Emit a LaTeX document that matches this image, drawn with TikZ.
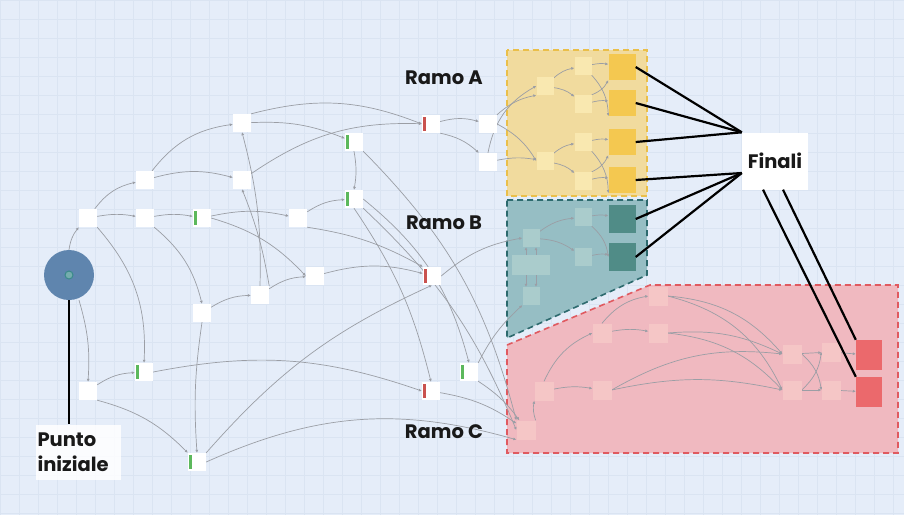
\documentclass[tikz,border=0pt]{standalone}
\usepackage{fontspec}
\newfontfamily\labfont{Poppins}
\usetikzlibrary{arrows.meta}
\definecolor{bgc}{RGB}{229,237,249}
\definecolor{gridc}{RGB}{218,228,242}
\definecolor{edgec}{RGB}{155,158,165}
\definecolor{barg}{RGB}{92,184,92}
\definecolor{barr}{RGB}{201,82,79}
\definecolor{circc}{RGB}{95,133,174}
\definecolor{dotc}{RGB}{58,138,138}
\definecolor{regA}{RGB}{241,219,158}
\definecolor{lineA}{RGB}{234,191,74}
\definecolor{nodA}{RGB}{249,232,176}
\definecolor{finA}{RGB}{244,200,80}
\definecolor{regB}{RGB}{150,190,196}
\definecolor{lineB}{RGB}{45,106,110}
\definecolor{nodB}{RGB}{170,204,204}
\definecolor{finB}{RGB}{80,140,135}
\definecolor{regC}{RGB}{240,185,192}
\definecolor{lineC}{RGB}{224,90,96}
\definecolor{nodC}{RGB}{245,198,198}
\definecolor{finC}{RGB}{235,105,108}
\pgfdeclarelayer{back}
\pgfdeclarelayer{edgelayer}
\pgfsetlayers{back,edgelayer,main}
\tikzset{
  box/.style={rectangle, fill=white, minimum width=18pt, minimum height=18pt, inner sep=0pt},
  gbox/.style={box, path picture={\fill[barg] ([xshift=1pt,yshift=7pt]path picture bounding box.west) rectangle ++(3pt,-14pt);}},
  rbox/.style={box, path picture={\fill[barr] ([xshift=1pt,yshift=7pt]path picture bounding box.west) rectangle ++(3pt,-14pt);}},
  boxA/.style={box, fill=nodA, minimum width=17pt},
  boxB/.style={box, fill=nodB, minimum width=17pt},
  boxC/.style={box, fill=nodC, minimum width=19pt, minimum height=19pt},
  finalA/.style={box, fill=finA, minimum width=27pt, minimum height=26pt},
  finalB/.style={box, fill=finB, minimum width=27pt, minimum height=28pt},
  finalC/.style={box, fill=finC, minimum width=26pt, minimum height=30pt},
  edge/.style={draw=edgec, line width=0.7pt, -{Latex[length=3pt,width=3pt]}},
  bigline/.style={draw=black, line width=2.2pt},
  lab/.style={font=\labfont\bfseries\fontsize{19.5}{25}\selectfont, text=black!90},
  regborder/.style={line width=1.6pt, dash pattern=on 6pt off 4pt},
}
\begin{document}
\begin{tikzpicture}[x=1pt,y=-1pt]
\useasboundingbox (0,0) rectangle (904,515);
\begin{pgfonlayer}{back}
  \fill[bgc] (0,0) rectangle (904,515);
  \draw[gridc, line width=0.4pt, step=19pt] (0,0) grid (904,515);
  % branch areas
  \fill[regA] (507,50) rectangle (647,196);
  \draw[lineA, regborder] (507,50) rectangle (647,196);
  \fill[regB] (507,200) -- (647,200) -- (647,275) -- (507,338) -- cycle;
  \draw[lineB, regborder] (507,200) -- (647,200) -- (647,275) -- (507,338) -- cycle;
  \fill[regC] (507,345) -- (650,285) -- (898,285) -- (898,453) -- (507,453) -- cycle;
  \draw[lineC, regborder] (507,345) -- (650,285) -- (898,285) -- (898,453) -- (507,453) -- cycle;
\end{pgfonlayer}

% start point
\node[circle, fill=circc, minimum size=50pt, inner sep=0pt] (st) at (69,275) {};
\node[circle, draw=dotc, fill=dotc!70, line width=1pt, minimum size=8pt, inner sep=0pt] (std) at (69,275) {};
\node[lab, fill=white, fill opacity=0.85, text opacity=1, minimum width=85pt, minimum height=55pt, align=left, text width=81pt, inner xsep=2pt] (pl) at (78,452) {Punto\\iniziale};
\draw[line width=2.2pt] (st.south) -- (pl.north -| st.south);

% main flow nodes
\node[box] (n1) at (88,218) {};
\node[box] (n2) at (145,180) {};
\node[box] (n3) at (145,218) {};
\node[gbox] (n4) at (202,218) {};
\node[box] (n5) at (242,123) {};
\node[box] (n6) at (242,180) {};
\node[box] (n7) at (298,218) {};
\node[box] (n8) at (260,295) {};
\node[box] (n9) at (202,313) {};
\node[box] (n10) at (315,276) {};
\node[box] (n11) at (88,391) {};
\node[gbox] (g4) at (144,372) {};
\node[gbox] (g5) at (197,462) {};
\node[gbox] (g2) at (354,142) {};
\node[gbox] (g3) at (354,199) {};
\node[gbox] (g6) at (469,372) {};
\node[rbox] (r1) at (431,124) {};
\node[rbox] (r2) at (432,276) {};
\node[rbox] (r3) at (431,391) {};
\node[box] (A1) at (488,124) {};
\node[box] (A2) at (488,162) {};

% branch A
\node[boxA] (a1) at (545,86) {};
\node[boxA] (a2) at (545,161) {};
\node[boxA] (a3) at (583,66) {};
\node[boxA] (a4) at (583,104) {};
\node[boxA] (a5) at (583,142) {};
\node[boxA] (a6) at (583,181) {};
\node[finalA] (f1) at (622,67) {};
\node[finalA] (f2) at (622,103) {};
\node[finalA] (f3) at (622,142) {};
\node[finalA] (f4) at (622,180) {};

% branch B
\node[boxB] (b1) at (531,238) {};
\node[boxB, minimum width=38pt, minimum height=20pt] (b2) at (531,265) {};
\node[boxB] (b3) at (531,296) {};
\node[boxB] (b4) at (583,217) {};
\node[boxB] (b5) at (583,257) {};
\node[finalB] (fb1) at (622,219) {};
\node[finalB] (fb2) at (622,257) {};

% branch C
\node[boxC] (c0) at (526,430) {};
\node[boxC] (c1) at (544,391) {};
\node[boxC] (c2) at (602,390) {};
\node[boxC] (c3) at (602,333) {};
\node[boxC] (c4) at (658,296) {};
\node[boxC] (c5) at (658,333) {};
\node[boxC] (c6) at (792,354) {};
\node[boxC] (c7) at (792,390) {};
\node[boxC] (c8) at (831,352) {};
\node[boxC] (c9) at (831,390) {};
\node[finalC] (fc1) at (869,355) {};
\node[finalC] (fc2) at (869,392) {};

% labels
\node[lab] (la) at (444,78) {Ramo A};
\node[lab] (lb) at (444,223) {Ramo B};
\node[lab] (lc) at (444,432) {Ramo C};
\node[lab, fill=white, minimum width=66pt, minimum height=57pt] (fin) at (775,161) {Finali};

\begin{pgfonlayer}{edgelayer}
  % main flow
  \draw[edge] (st.north) to[bend left=15] (n1.south west);
  \draw[edge] ([xshift=10pt]st.south) to[bend left=10] (n11.north);
  \draw[edge] (n1) to[bend left=20] (n2);
  \draw[edge] (n1) to[bend left=10] (n3);
  \draw[edge] (n1.south east) to[bend left=22] (g4.north);
  \draw[edge] (n2) to[bend left=22] (n5);
  \draw[edge] (n2) to[bend left=15] (n6);
  \draw[edge] (n3) to[bend left=10] (n4);
  \draw[edge] (n3.south east) to[bend left=18] (n9.north);
  \draw[edge] (n4) to[bend left=12] (n7);
  \draw[edge] (n4.east) to[bend left=15] (n10.west);
  \draw[edge] (n5) to[bend left=12] (g2);
  \draw[edge] (n5.north east) to[bend left=18] (r1.west);
  \draw[edge] (n6) to[bend left=18] (r1);
  \draw[edge] (n8.north) to[bend right=8] (n5.south);
  \draw[edge] (n8.north east) to[bend right=6] (n6.south);
  \draw[edge] (n7) to[bend left=15] (g3);
  \draw[edge] (n7.south east) to[bend left=10] (r2.north west);
  \draw[edge] (n9) to[bend left=15] (n8);
  \draw[edge] (n8) to[bend left=15] (n10);
  \draw[edge] (n10) to[bend left=15] (r2);
  \draw[edge] (n9.south) to[bend right=6] (g5.north);
  \draw[edge] (g2.south) to[bend left=10] (g3.north);
  \draw[edge] (g2.south east) to[bend left=15] (c0.north west);
  \draw[edge] (g3.south) to[bend left=10] (r3.north);
  \draw[edge] (g3.south east) to[bend left=12] (c0.west);
  \draw[edge] (g3.east) to[bend left=18] (g6.north);
  \draw[edge] (n11) to[bend left=15] (g4);
  \draw[edge] (n11.south east) to[bend left=15] (g5.north west);
  \draw[edge] (g4.east) to[bend left=15] (r3.west);
  \draw[edge] (g5.north east) to[bend left=12] (r2.south);
  \draw[edge] (g5.east) to[bend left=20] (c0.south west);
  \draw[edge] (r3) to[bend left=12] (c0);
  \draw[edge] (g6.south east) to[bend left=10] (c0);
  \draw[edge] (g6.north east) to[bend left=10] (b3.south west);
  \draw[edge] (r1) to[bend left=15] (A1);
  \draw[edge] (r1.south east) to[bend left=15] (A2.north west);
  \draw[edge] (r2.east) to[bend left=15] (b1.west);
  % branch A
  \draw[edge] (A1) to[bend left=15] (a1.south west);
  \draw[edge] (A1.east) to[bend left=15] (a2.west);
  \draw[edge] (A2.north) to[bend left=25] (a1.west);
  \draw[edge] (A2) to[bend left=10] (a2);
  \draw[edge] (a1) to[bend left=15] (a3);
  \draw[edge] (a1) to[bend left=15] (a4);
  \draw[edge] (a2) to[bend left=15] (a5);
  \draw[edge] (a2) to[bend left=15] (a6);
  \draw[edge] (a3) to[bend left=10] (f1);
  \draw[edge] (a4) to[bend left=10] (f2);
  \draw[edge] (a3.south east) to[bend left=20] (f2.south west);
  \draw[edge] (a4.north east) to[bend right=20] (f1.south west);
  \draw[edge] (a5) to[bend left=10] (f3);
  \draw[edge] (a6) to[bend left=10] (f4);
  \draw[edge] (a5.south east) to[bend left=20] (f4.south west);
  \draw[edge] (a6.north east) to[bend right=20] (f3.south west);
  % branch B
  \draw[edge] (b1) to[bend left=15] (b4);
  \draw[edge] (b1) to[bend left=15] (b5);
  \draw[edge] (b4) to[bend left=10] (fb1);
  \draw[edge] (b5) to[bend left=10] (fb2);
  \draw[edge] (b4.south east) to[bend left=20] (fb2.west);
  \draw[edge] ([xshift=-5pt]b2.north) -- ([xshift=-5pt]b1.south);
  \draw[edge] ([xshift=5pt]b2.north) -- ([xshift=5pt]b1.south);
  \draw[edge] ([xshift=-5pt]b2.south) -- ([xshift=-5pt]b3.north);
  \draw[edge] ([xshift=5pt]b2.south) -- ([xshift=5pt]b3.north);
  % branch C
  \draw[edge] (c0.north east) to[bend left=15] (c1.south west);
  \draw[edge] (c1) to[bend left=10] (c2);
  \draw[edge] (c1.north) to[bend left=20] (c3.west);
  \draw[edge] (c3.north) to[bend left=20] (c4.west);
  \draw[edge] (c3) to[bend left=10] (c5);
  \draw[edge] (c4.east) to[bend left=22] (c6.west);
  \draw[edge] (c4.east) to[bend left=25] (c7.west);
  \draw[edge] (c5.east) to[bend left=15] (c6.west);
  \draw[edge] (c5.east) to[bend left=20] (c7.west);
  \draw[edge] (c2.east) to[bend left=18] (c6.west);
  \draw[edge] (c2.east) to[bend left=12] (c7.west);
  \draw[edge] (c6) -- (c8);
  \draw[edge] (c7) -- (c9);
  \draw[edge] (c6.east) to[bend left=20] (c9.west);
  \draw[edge] (c7.east) to[bend right=20] (c8.west);
  \draw[edge] (c8) -- (fc1);
  \draw[edge] (c9) -- (fc2);
\end{pgfonlayer}

% links to the final nodes
\coordinate (fu) at (fin.north west);
\coordinate (fl) at ([yshift=-12pt]fin.west);
\draw[bigline] (f1.east) -- (fu);
\draw[bigline] (f2.east) -- (fu);
\draw[bigline] (f3.east) -- (fu);
\draw[bigline] (f4.east) -- (fl);
\draw[bigline] (fb1.east) -- (fl);
\draw[bigline] (fb2.east) -- (fl);
\draw[bigline] ([xshift=-12pt]fin.south) -- (fc2.north west);
\draw[bigline] ([xshift=8pt]fin.south) -- (fc1.north west);
\end{tikzpicture}
\end{document}
